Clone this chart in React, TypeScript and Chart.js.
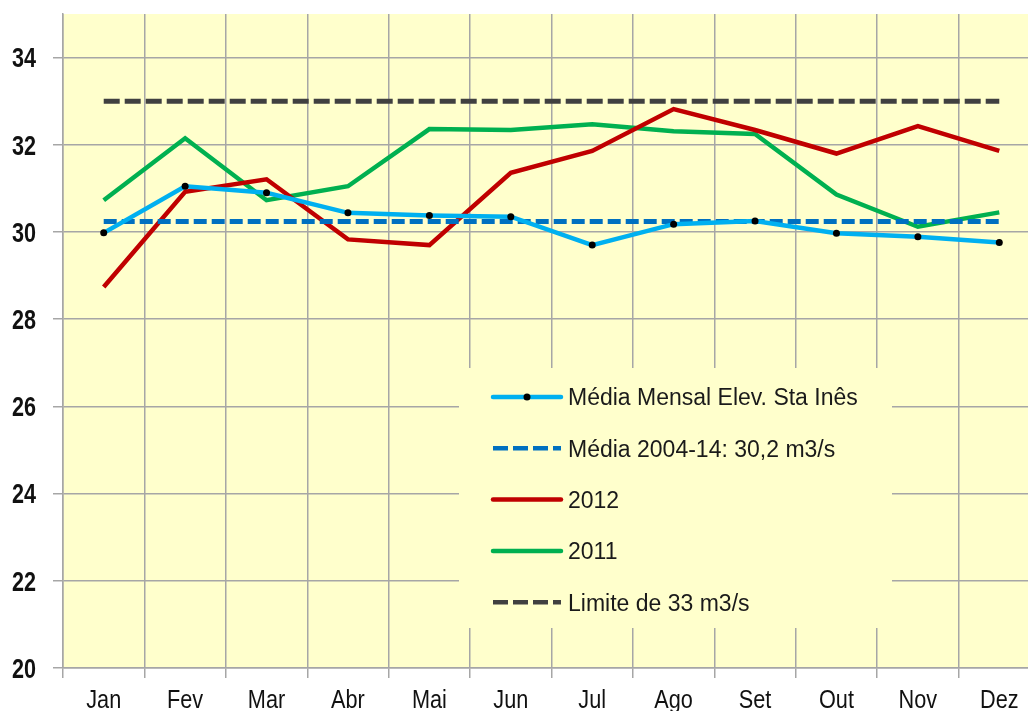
import React, { useEffect, useRef } from "react";
import { Chart, registerables } from "chart.js";

Chart.register(...registerables);

const months = ["Jan", "Fev", "Mar", "Abr", "Mai", "Jun", "Jul", "Ago", "Set", "Out", "Nov", "Dez"];
const mediaMensal = [29.98, 31.05, 30.9, 30.44, 30.38, 30.35, 29.7, 30.18, 30.25, 29.97, 29.89, 29.76];
const media2004a14 = [30.24, 30.24, 30.24, 30.24, 30.24, 30.24, 30.24, 30.24, 30.24, 30.24, 30.24, 30.24];
const ano2012 = [28.74, 30.92, 31.21, 29.83, 29.7, 31.36, 31.86, 32.82, 32.34, 31.8, 32.43, 31.86];
const ano2011 = [30.73, 32.15, 30.73, 31.05, 32.36, 32.34, 32.47, 32.31, 32.25, 30.86, 30.12, 30.45];
const limite33 = [33, 33, 33, 33, 33, 33, 33, 33, 33, 33, 33, 33];
const yMin = 20;
const yMax = 35;
const yStep = 2;

const seriesLabels = [
  "Média Mensal Elev. Sta Inês",
  "Média 2004-14: 30,2 m3/s",
  "2012",
  "2011",
  "Limite de 33 m3/s",
];

const SANS = "'Liberation Sans', Arial, sans-serif";
const GRID = "#A6A6A6";

const bgPlugin = {
  id: "plotBg",
  beforeDraw(chart: any) {
    const { ctx, chartArea } = chart;
    ctx.save();
    ctx.fillStyle = "#FFFFCC";
    ctx.fillRect(chartArea.left, chartArea.top, chartArea.right - chartArea.left, chartArea.bottom - chartArea.top);
    ctx.restore();
  },
};

// Tick labels of both axes, placed by the chart's own scales, drawn with a tall typeface look.
const tickLabelPlugin = {
  id: "tallTickLabels",
  afterDraw(chart: any) {
    const { ctx, chartArea } = chart;
    const ys = chart.scales.y;
    const xs = chart.scales.x;
    ctx.save();
    ctx.fillStyle = "#111";
    ctx.textBaseline = "alphabetic";
    // y axis
    ctx.font = `bold 21.6px ${SANS}`;
    ctx.textAlign = "right";
    ys.ticks.forEach((t: any) => {
      const py = ys.getPixelForValue(t.value);
      ctx.save();
      ctx.translate(chartArea.left - 27, py + 9.7);
      ctx.scale(1, 1.25);
      ctx.fillText(String(t.label), 0, 0);
      ctx.restore();
    });
    // x axis
    ctx.font = `21.7px ${SANS}`;
    ctx.textAlign = "center";
    xs.ticks.forEach((t: any, i: number) => {
      const px = xs.getPixelForTick(i);
      ctx.save();
      ctx.translate(px, chartArea.bottom + 40);
      ctx.scale(1, 1.16);
      ctx.fillText(String(t.label), 0, 0);
      ctx.restore();
    });
    ctx.restore();
  },
};

const legendPlugin = {
  id: "boxLegend",
  beforeDatasetsDraw(chart: any) {
    const { ctx } = chart;
    const boxL = 459, boxT = 368, boxR = 892, boxB = 628;
    ctx.save();
    ctx.fillStyle = "#FFFFCC";
    ctx.fillRect(boxL, boxT, boxR - boxL, boxB - boxT);
    const x0 = 493, x1 = 561, tx = 568;
    chart.data.datasets.forEach((ds: any, i: number) => {
      const cy = 397 + i * 51.3;
      const dashed = ds.borderDash && ds.borderDash.length;
      ctx.save();
      ctx.strokeStyle = ds.borderColor;
      ctx.lineWidth = 4.5;
      ctx.lineCap = dashed ? "butt" : "round";
      ctx.setLineDash(dashed ? [15, 5] : []);
      ctx.beginPath();
      ctx.moveTo(x0, cy);
      ctx.lineTo(x1, cy);
      ctx.stroke();
      ctx.restore();
      if (ds.pointRadius > 0) {
        ctx.fillStyle = "#000";
        ctx.beginPath();
        ctx.arc((x0 + x1) / 2, cy, 3.5, 0, Math.PI * 2);
        ctx.fill();
      }
      ctx.fillStyle = "#1A1A1A";
      ctx.font = `23px ${SANS}`;
      ctx.textBaseline = "alphabetic";
      ctx.textAlign = "left";
      ctx.fillText(ds.label, tx, cy + 8.3);
    });
    ctx.restore();
  },
};

export default function App() {
  const ref = useRef<HTMLCanvasElement | null>(null);

  useEffect(() => {
    document.body.style.margin = "0";
    document.body.style.overflow = "hidden";
    const canvas = ref.current!;
    const chart = new Chart(canvas, {
      type: "line",
      data: {
        labels: months,
        datasets: [
          {
            label: seriesLabels[0],
            data: mediaMensal,
            borderColor: "#00B0F0",
            borderWidth: 4.5,
            pointRadius: 3.5,
            pointBackgroundColor: "#000",
            pointBorderWidth: 0,
            tension: 0,
          },
          {
            label: seriesLabels[1],
            data: media2004a14,
            borderColor: "#0070C0",
            borderWidth: 5,
            borderDash: [13, 5],
            pointRadius: 0,
          },
          {
            label: seriesLabels[2],
            data: ano2012,
            borderColor: "#C00000",
            borderWidth: 4.5,
            pointRadius: 0,
          },
          {
            label: seriesLabels[3],
            data: ano2011,
            borderColor: "#00B050",
            borderWidth: 4.5,
            pointRadius: 0,
          },
          {
            label: seriesLabels[4],
            data: limite33,
            borderColor: "#404040",
            borderWidth: 5,
            borderDash: [16, 5],
            pointRadius: 0,
          },
        ],
      },
      options: {
        responsive: false,
        animation: false,
        devicePixelRatio: 1,
        layout: { padding: { left: 0, top: 14, right: 1, bottom: 0 } },
        plugins: {
          legend: { display: false },
          tooltip: { enabled: false },
          title: { display: false },
        },
        scales: {
          x: {
            type: "category",
            offset: true,
            grid: { offset: true, color: GRID, lineWidth: 1.5, tickLength: 10, drawTicks: true },
            border: { color: GRID, width: 1.5 },
            ticks: { display: false, autoSkip: false, maxRotation: 0 },
            afterFit: (s: any) => {
              s.height = 43;
              s.paddingLeft = 0;
              s.paddingRight = 0;
            },
          },
          y: {
            min: yMin,
            max: yMax,
            grid: { color: GRID, lineWidth: 1.5, tickLength: 10 },
            border: { color: GRID, width: 1.5 },
            ticks: { display: false, stepSize: yStep, includeBounds: false },
            afterFit: (s: any) => {
              s.width = 63;
              s.paddingTop = 0;
              s.paddingBottom = 0;
            },
          },
        },
      },
      plugins: [bgPlugin, legendPlugin, tickLabelPlugin],
    } as any);
    return () => chart.destroy();
  }, []);

  return (
    <div style={{ width: 1028, height: 711, overflow: "hidden" }}>
      <canvas ref={ref} width={1044} height={711} style={{ display: "block" }} />
    </div>
  );
}
